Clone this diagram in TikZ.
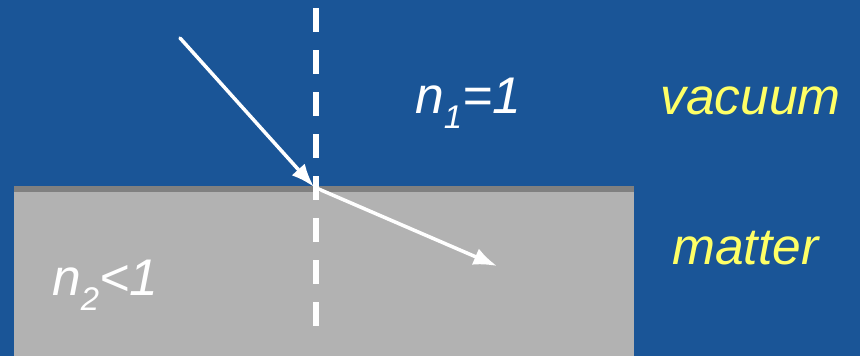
\documentclass[tikz,border=0pt]{standalone}
\usepackage{fontspec}
\setmainfont{Liberation Sans}
\usetikzlibrary{arrows.meta}

\definecolor{bgblue}{HTML}{1A5597}
\definecolor{slabgrey}{HTML}{B2B2B2}
\definecolor{edgegrey}{HTML}{808080}
\definecolor{labelyellow}{HTML}{FFFF66}

\newcommand{\lowidx}[1]{\raisebox{-0.3em}{\fontsize{28}{28}\selectfont #1}}

\tikzset{
  ray/.style={white, line width=3pt, -{Latex[length=20pt, width=15pt]}},
  normal/.style={white, line width=5.5pt, dash pattern=on 20.5pt off 15.4pt},
  idx/.style={anchor=base west, inner sep=0pt, white, font=\fontsize{44}{50}\selectfont\itshape},
  medium/.style={anchor=base west, inner sep=0pt, labelyellow, font=\fontsize{44}{50}\selectfont\itshape}
}

\begin{document}
\begin{tikzpicture}[x=0.03cm, y=-0.03cm]

        % ==========================================
        % 1. SFONDO E LASTRA DI MATERIA
        % ==========================================
        \fill[bgblue] (0,0) rectangle (860,356);
        \useasboundingbox (0,0) rectangle (860,356);
        \fill[slabgrey] (14,186) rectangle (634,356);
        \fill[edgegrey] (14,186) rectangle (634,192);

        % ==========================================
        % 2. NORMALE ALLA SUPERFICIE (tratteggiata)
        % ==========================================
        \coordinate (top) at (316,8);
        \coordinate (bottom) at (316,326);
        \draw[normal] (top) -- (bottom);

        % ==========================================
        % 3. RAGGIO INCIDENTE E RIFRATTO
        % ==========================================
        \coordinate (src) at (180,38);
        \coordinate (hit) at (314,187);
        \coordinate (dst) at (497,266);
        \draw[ray, line cap=round] (src) -- (hit);
        \draw[ray] (hit) -- (dst);

        % ==========================================
        % 4. ETICHETTE
        % ==========================================
        \node[idx] (n1) at (415,113) {n\lowidx{1}=1};
        \node[idx] (n2) at (52,295) {n\lowidx{2}<1};
        \node[medium] (vacuum) at (660,114) {vacuum};
        \node[medium] (matter) at (672,264) {matter};

    \end{tikzpicture}
\end{document}
